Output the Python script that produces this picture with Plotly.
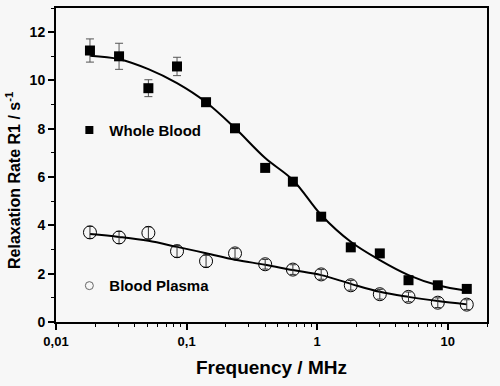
import plotly.graph_objects as go

# Frequencies (MHz)
freq = [0.0182, 0.0304, 0.051, 0.0845, 0.141, 0.235, 0.40, 0.652, 1.074, 1.81, 3.02, 5.01, 8.4, 14.0]

# Whole blood R1 (s^-1) and errors
wb_r1 = [11.24, 11.0, 9.68, 10.58, 9.1, 8.02, 6.38, 5.81, 4.36, 3.09, 2.84, 1.73, 1.52, 1.37]
wb_err = [0.48, 0.54, 0.35, 0.38, 0.15, 0.15, 0.1, 0.1, 0.1, 0.1, 0.1, 0.1, 0.1, 0.1]
wb_fit = [11.02, 10.88, 10.47, 9.89, 9.1, 8.03, 6.79, 5.88, 4.43, 3.32, 2.56, 1.94, 1.52, 1.29]

# Blood plasma R1 (s^-1) and errors
bp_r1 = [3.71, 3.50, 3.69, 2.93, 2.52, 2.84, 2.39, 2.17, 1.97, 1.52, 1.15, 1.04, 0.80, 0.72]
bp_err = [0.25, 0.25, 0.25, 0.25, 0.25, 0.2, 0.2, 0.2, 0.2, 0.2, 0.2, 0.2, 0.2, 0.2]
bp_fit = [3.64, 3.52, 3.36, 3.11, 2.85, 2.58, 2.37, 2.15, 1.94, 1.58, 1.25, 1.04, 0.87, 0.73]

x_tickvals = [0.01, 0.1, 1, 10]
x_ticktext = ["0,01", "0,1", "1", "10"]
x_minor = [m * d for d in (0.01, 0.1, 1, 10) for m in range(2, 10) if m * d <= 20]

FONT = "Liberation Sans, Arial, sans-serif"
BG = "#f7f7f7"

fig = go.Figure()

# fit curves
fig.add_trace(go.Scatter(x=freq, y=wb_fit, mode="lines", line=dict(color="black", width=2, shape="spline"),
                         showlegend=False, hoverinfo="skip"))
fig.add_trace(go.Scatter(x=freq, y=bp_fit, mode="lines", line=dict(color="black", width=2, shape="spline"),
                         showlegend=False, hoverinfo="skip"))

# data
fig.add_trace(go.Scatter(x=freq, y=wb_r1, mode="markers",
                         marker=dict(symbol="square", size=10, color="black"),
                         error_y=dict(type="data", array=wb_err, color="#555555", thickness=1, width=4),
                         showlegend=False))
fig.add_trace(go.Scatter(x=freq, y=bp_r1, mode="markers",
                         marker=dict(symbol="circle-open", size=13, color="black", line=dict(width=1, color="black")),
                         error_y=dict(type="data", array=bp_err, color="#333333", thickness=1, width=3),
                         showlegend=False))

# legend entries
fig.add_trace(go.Scatter(x=[None], y=[None], mode="markers", name="Whole Blood",
                         marker=dict(symbol="square", size=8, color="black"), legend="legend"))
fig.add_trace(go.Scatter(x=[None], y=[None], mode="markers", name="Blood Plasma",
                         marker=dict(symbol="circle-open", size=8, color="#666666", line=dict(width=1)),
                         legend="legend2"))

legend_common = dict(bgcolor="rgba(0,0,0,0)", borderwidth=0, xanchor="left", yanchor="middle",
                     font=dict(family=FONT, size=15, color="black", weight="bold"))

fig.update_layout(
    width=500, height=386,
    margin=dict(l=56, r=13, t=8, b=64, autoexpand=False),
    paper_bgcolor=BG, plot_bgcolor=BG,
    font=dict(family=FONT, color="black"),
    legend=dict(x=0.031, y=0.611, **legend_common),
    legend2=dict(x=0.031, y=0.115, **legend_common),
    xaxis=dict(
        type="log", range=[-2, 1.301], automargin=False,
        tickvals=x_tickvals, ticktext=x_ticktext,
        ticks="outside", ticklen=6, tickwidth=1.5, tickcolor="black",
        minor=dict(tickvals=x_minor, ticks="outside", ticklen=3, tickwidth=1, tickcolor="black"),
        showline=True, linecolor="black", linewidth=2, mirror=True,
        showgrid=False, zeroline=False,
        tickfont=dict(family=FONT, size=13, color="black", weight="bold"),
        title=dict(text="Frequency / MHz", font=dict(family=FONT, size=19, color="black", weight="bold"),
                   standoff=13),
    ),
    yaxis=dict(
        range=[0, 13], dtick=2, tick0=0, automargin=False,
        ticks="outside", ticklen=6, tickwidth=1.5, tickcolor="black",
        minor=dict(dtick=1, ticks="outside", ticklen=3, tickwidth=1, tickcolor="black"),
        showline=True, linecolor="black", linewidth=2, mirror=True,
        showgrid=False, zeroline=False,
        tickfont=dict(family=FONT, size=14, color="black", weight="bold"),
    ),
    annotations=[dict(
        text="Relaxation Rate R1 / s<sup>-1</sup>", textangle=-90,
        xref="paper", yref="paper", x=-0.10, y=0.452, xanchor="center", yanchor="middle",
        showarrow=False, font=dict(family=FONT, size=16, color="black", weight="bold"),
    )],
)

fig.write_html("out.html", config={"displayModeBar": False},
               post_script="document.body.style.margin='0';")
